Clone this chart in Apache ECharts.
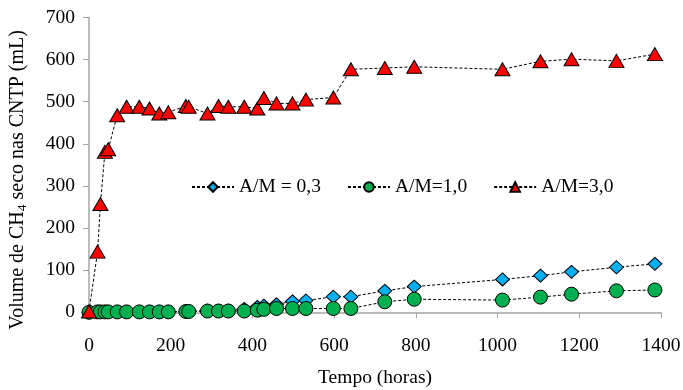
<!DOCTYPE html>
<html>
<head>
<meta charset="utf-8">
<script src="https://cdn.jsdelivr.net/npm/echarts@6/dist/echarts.min.js"></script>
<style>
  html, body { margin: 0; padding: 0; background: #fff; }
  #chart { width: 683px; height: 390px; }
</style>
</head>
<body>
<div id="chart"></div>
<script>
// tempo (horas) - same sampling for the three reactors
const hours = [0, 21, 28, 39, 47, 69, 92, 123, 148, 172, 194, 237, 244, 290, 317, 341, 380, 412, 428, 459, 498, 531, 598, 641, 724, 796, 1012, 1105, 1181, 1291, 1385];
const am03 = [0, 1, 1, 1, 1, 1, 1, 1, 1, 1, 1, 2, 2, 4, 4, 4, 8, 13, 16, 19, 26, 28, 37, 37, 51, 61, 78, 87, 96, 107, 115];
const am10 = [0, 1, 1, 1, 1, 1, 1, 1, 1, 1, 1, 2, 2, 3, 3, 3, 3, 5, 7, 9, 9, 9, 9, 9, 25, 31, 29, 36, 43, 51, 53];
const am30 = [2, 144, 257, 381, 387, 468, 488, 488, 484, 472, 475, 490, 488, 472, 490, 488, 488, 484, 509, 496, 496, 505, 510, 577, 580, 583, 577, 596, 601, 597, 613];
const seriesNames = ['A/M = 0,3', 'A/M=1,0', 'A/M=3,0'];
const xTicks = [0, 200, 400, 600, 800, 1000, 1200, 1400];
const yTicks = [0, 100, 200, 300, 400, 500, 600, 700];

const font = "'Liberation Serif', 'Times New Roman', serif";
const chart = echarts.init(document.getElementById('chart'));

const pairs = (vals) => hours.map((h, i) => [h, vals[i]]);

const lineStyle = { color: '#000', width: 1, type: [3, 2] };

const option = {
    animation: false,
    textStyle: { fontFamily: font },
    grid: {
        left: 89,
        right: 22,
        top: 17.5,
        bottom: 77.7,
        containLabel: false,
        outerBoundsMode: 'none',
    },
    legend: {
        left: 186,
        top: 172,
        itemWidth: 42,
        itemHeight: 12,
        itemGap: 26,
        textStyle: { fontFamily: font, fontSize: 19.5, color: '#000' },
        data: seriesNames,
    },
    xAxis: {
        type: 'value',
        min: xTicks[0],
        max: xTicks[xTicks.length - 1],
        interval: 200,
        name: 'Tempo (horas)',
        nameLocation: 'middle',
        nameGap: 56,
        nameTextStyle: { fontFamily: font, fontSize: 19.5, color: '#000' },
        axisLine: { lineStyle: { color: '#a6a6a6', width: 1.5 } },
        axisTick: { show: true, length: 6, lineStyle: { color: '#a6a6a6' } },
        axisLabel: {
            margin: 24, fontFamily: font, fontSize: 19.5, color: '#000',
            formatter: (v) => String(v),
        },
        splitLine: { show: false },
    },
    yAxis: {
        type: 'value',
        min: yTicks[0],
        max: yTicks[yTicks.length - 1],
        interval: 100,
        name: 'Volume de CH{sub|4} seco nas CNTP (mL)',
        nameLocation: 'middle',
        nameGap: 60,
        nameTextStyle: {
            fontFamily: font, fontSize: 20, color: '#000',
            padding: [0, 30, 0, 0],
            rich: { sub: { fontFamily: font, fontSize: 13.5, verticalAlign: 'bottom', padding: [9, 0, 0, 0] } }
        },
        axisLine: { show: true, lineStyle: { color: '#a6a6a6', width: 1.5 } },
        axisTick: { show: true, length: 6, lineStyle: { color: '#a6a6a6' } },
        axisLabel: { margin: 14, fontFamily: font, fontSize: 19.5, color: '#000' },
        splitLine: { show: false },
    },
    series: [
        {
            name: seriesNames[0],
            type: 'line',
            data: pairs(am03),
            symbol: 'diamond',
            symbolSize: [14, 13],
            itemStyle: { color: '#00b0f0', borderColor: '#000', borderWidth: 1 },
            lineStyle: lineStyle,
        },
        {
            name: seriesNames[1],
            type: 'line',
            data: pairs(am10),
            symbol: 'circle',
            symbolSize: 14,
            itemStyle: { color: '#00b050', borderColor: '#000', borderWidth: 1 },
            lineStyle: lineStyle,
        },
        {
            name: seriesNames[2],
            type: 'line',
            data: pairs(am30),
            symbol: 'triangle',
            symbolSize: [15, 13],
            itemStyle: { color: '#ff0000', borderColor: '#000', borderWidth: 1 },
            lineStyle: lineStyle,
        },
    ],
};

chart.setOption(option);
</script>
</body>
</html>
